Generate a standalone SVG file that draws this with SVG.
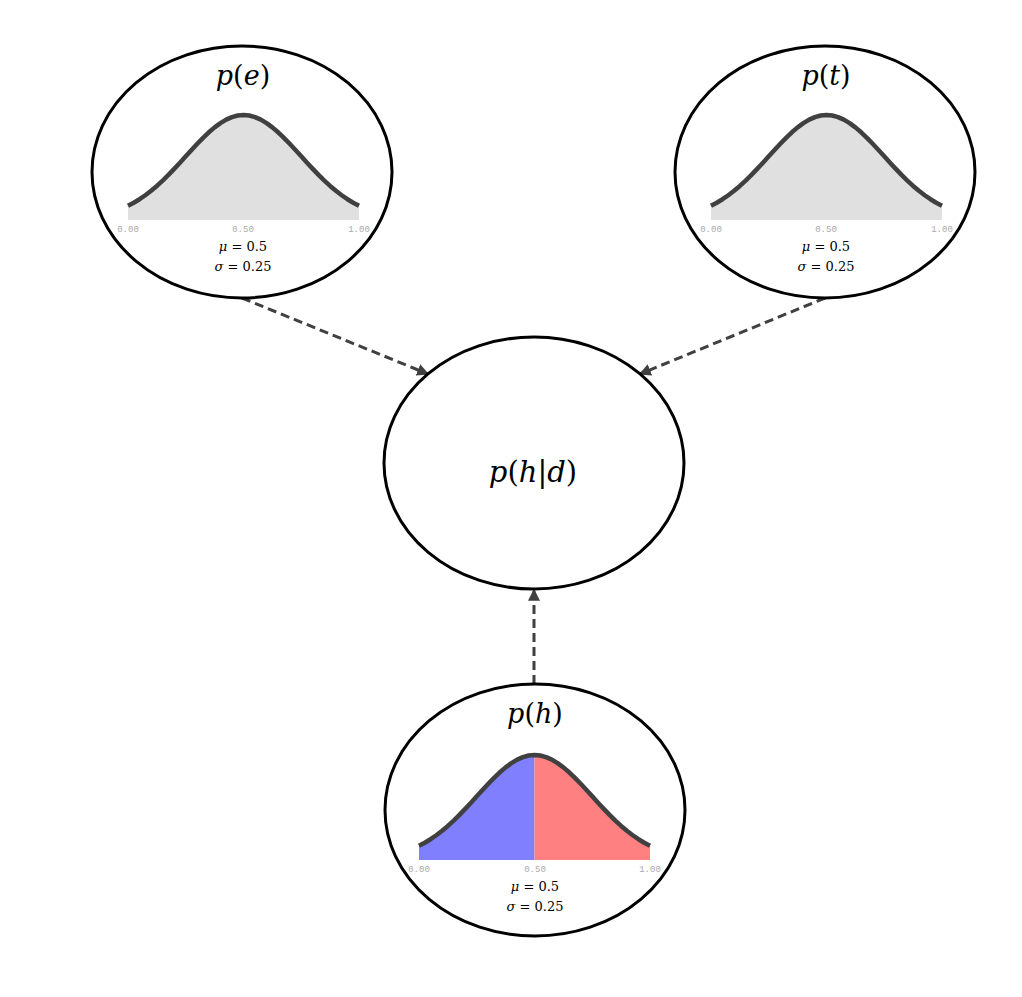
<svg xmlns="http://www.w3.org/2000/svg" width="1022" height="997" viewBox="0 0 1022 997">
<style>
.node{fill:#fff;stroke:#000;stroke-width:3}
.title{font-family:"DejaVu Serif","Liberation Serif",serif;font-size:27px;fill:#000;text-anchor:middle}
.it{font-style:italic}
.tick{font-family:"Liberation Mono",monospace;font-size:9px;fill:#aaa;text-anchor:middle}
.stat{font-family:"DejaVu Serif","Liberation Serif",serif;font-size:13px;fill:#000;text-anchor:middle}
.edge{fill:none;stroke:#404040;stroke-width:3;stroke-dasharray:9,5}
.curve{fill:none;stroke:#404040;stroke-width:4.5;stroke-linejoin:round}
</style>
<defs>
<marker id="arrow" viewBox="0 0 10 10" refX="9" refY="5" markerWidth="4" markerHeight="4" orient="auto" markerUnits="strokeWidth">
<path d="M0,0 L10,5 L0,10 Z" fill="#404040"/>
</marker>
<path id="curvePath" class="curve" d="M0,-14.21 L5.775,-17.27 L11.55,-20.78 L17.325,-24.75 L23.1,-29.19 L28.875,-34.09 L34.65,-39.41 L40.425,-45.11 L46.2,-51.11 L51.975,-57.34 L57.75,-63.68 L63.525,-70.04 L69.3,-76.24 L75.075,-82.18 L80.85,-87.71 L86.625,-92.66 L92.4,-96.93 L98.175,-100.38 L103.95,-102.92 L109.725,-104.48 L115.5,-105 L121.275,-104.48 L127.05,-102.92 L132.825,-100.38 L138.6,-96.93 L144.375,-92.66 L150.15,-87.71 L155.925,-82.18 L161.7,-76.24 L167.475,-70.04 L173.25,-63.68 L179.025,-57.34 L184.8,-51.11 L190.575,-45.11 L196.35,-39.41 L202.125,-34.09 L207.9,-29.19 L213.675,-24.75 L219.45,-20.78 L225.225,-17.27 L231,-14.21"/>
<path id="fillAll" d="M0,0 L0,-14.21 L5.775,-17.27 L11.55,-20.78 L17.325,-24.75 L23.1,-29.19 L28.875,-34.09 L34.65,-39.41 L40.425,-45.11 L46.2,-51.11 L51.975,-57.34 L57.75,-63.68 L63.525,-70.04 L69.3,-76.24 L75.075,-82.18 L80.85,-87.71 L86.625,-92.66 L92.4,-96.93 L98.175,-100.38 L103.95,-102.92 L109.725,-104.48 L115.5,-105 L121.275,-104.48 L127.05,-102.92 L132.825,-100.38 L138.6,-96.93 L144.375,-92.66 L150.15,-87.71 L155.925,-82.18 L161.7,-76.24 L167.475,-70.04 L173.25,-63.68 L179.025,-57.34 L184.8,-51.11 L190.575,-45.11 L196.35,-39.41 L202.125,-34.09 L207.9,-29.19 L213.675,-24.75 L219.45,-20.78 L225.225,-17.27 L231,-14.21 L231,0 Z"/>
<path id="fillLeft" d="M0,0 L0,-14.21 L5.775,-17.27 L11.55,-20.78 L17.325,-24.75 L23.1,-29.19 L28.875,-34.09 L34.65,-39.41 L40.425,-45.11 L46.2,-51.11 L51.975,-57.34 L57.75,-63.68 L63.525,-70.04 L69.3,-76.24 L75.075,-82.18 L80.85,-87.71 L86.625,-92.66 L92.4,-96.93 L98.175,-100.38 L103.95,-102.92 L109.725,-104.48 L115.5,-105 L115.5,0 Z"/>
<path id="fillRight" d="M115.5,0 L115.5,-105 L121.275,-104.48 L127.05,-102.92 L132.825,-100.38 L138.6,-96.93 L144.375,-92.66 L150.15,-87.71 L155.925,-82.18 L161.7,-76.24 L167.475,-70.04 L173.25,-63.68 L179.025,-57.34 L184.8,-51.11 L190.575,-45.11 L196.35,-39.41 L202.125,-34.09 L207.9,-29.19 L213.675,-24.75 L219.45,-20.78 L225.225,-17.27 L231,-14.21 L231,0 Z"/>
</defs>
<rect width="1022" height="997" fill="#fff"/>
<g id="connectors">
<path class="edge" d="M242,298 L428,374" marker-end="url(#arrow)"/>
<path class="edge" d="M825,298 L640,374" marker-end="url(#arrow)"/>
<path class="edge" d="M534,684 L534,590" marker-end="url(#arrow)"/>
</g>
<g id="node-pe">
<ellipse class="node" cx="242" cy="172" rx="150" ry="126"/>
<text class="title" x="243" y="85"><tspan class="it">p</tspan>(<tspan class="it">e</tspan>)</text>
<g transform="translate(128,220)">
<use href="#fillAll" fill="#e0e0e0"/>
<use href="#curvePath"/>
</g>
<text class="tick" x="128" y="232">0.00</text>
<text class="tick" x="243" y="232">0.50</text>
<text class="tick" x="359" y="232">1.00</text>
<text class="stat" x="243" y="251"><tspan class="it">μ</tspan> = 0.5</text>
<text class="stat" x="243" y="271"><tspan class="it">σ</tspan> = 0.25</text>
</g>
<g id="node-pt">
<ellipse class="node" cx="825" cy="172" rx="150" ry="126"/>
<text class="title" x="826" y="85"><tspan class="it">p</tspan>(<tspan class="it">t</tspan>)</text>
<g transform="translate(711,220)">
<use href="#fillAll" fill="#e0e0e0"/>
<use href="#curvePath"/>
</g>
<text class="tick" x="711" y="232">0.00</text>
<text class="tick" x="826" y="232">0.50</text>
<text class="tick" x="942" y="232">1.00</text>
<text class="stat" x="826" y="251"><tspan class="it">μ</tspan> = 0.5</text>
<text class="stat" x="826" y="271"><tspan class="it">σ</tspan> = 0.25</text>
</g>
<g id="node-phd">
<ellipse class="node" cx="534" cy="463" rx="150" ry="126"/>
<text class="title" x="533" y="482" style="font-size:29px"><tspan class="it">p</tspan>(<tspan class="it">h</tspan>|<tspan class="it">d</tspan>)</text>
</g>
<g id="node-ph">
<ellipse class="node" cx="535" cy="810" rx="150" ry="126"/>
<text class="title" x="535" y="723"><tspan class="it">p</tspan>(<tspan class="it">h</tspan>)</text>
<g transform="translate(419,860)">
<use href="#fillLeft" fill="#8080ff"/>
<use href="#fillRight" fill="#ff8080"/>
<use href="#curvePath"/>
</g>
<text class="tick" x="419" y="872">0.00</text>
<text class="tick" x="535" y="872">0.50</text>
<text class="tick" x="650" y="872">1.00</text>
<text class="stat" x="535" y="891"><tspan class="it">μ</tspan> = 0.5</text>
<text class="stat" x="535" y="911"><tspan class="it">σ</tspan> = 0.25</text>
</g>
</svg>
